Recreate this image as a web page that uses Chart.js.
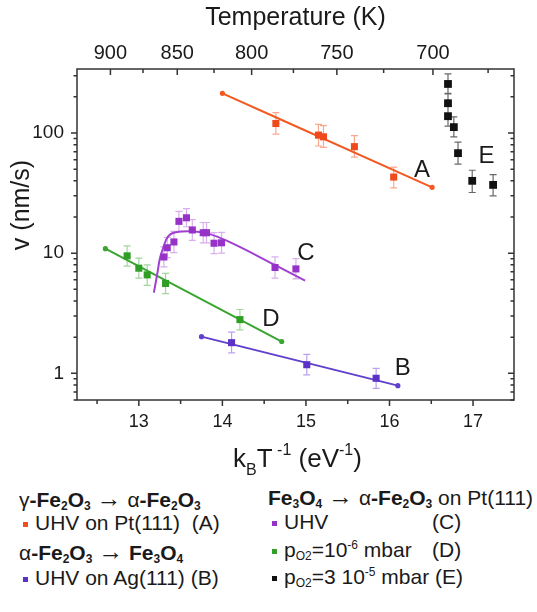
<!DOCTYPE html>
<html>
<head>
<meta charset="utf-8">
<script src="https://cdn.jsdelivr.net/npm/chart.js@4.4.0/dist/chart.umd.min.js"></script>
<style>
  body { margin: 0; background: #fff; }
  #wrap { position: relative; width: 537px; height: 612px; overflow: hidden;
          font-family: 'Liberation Sans', Arial, sans-serif; color: #1a1a1a; }
  #chart { position: absolute; left: 0; top: 0; }
  .leg { position: absolute; font-size: 21px; line-height: 24px; white-space: nowrap; }
  .leg sub { font-size: 12px; vertical-align: -3px; line-height: 0; }
  .leg sup { font-size: 12px; vertical-align: 8px; line-height: 0; }
  .arr { font-size: 25px; line-height: 0; }
  .mk { display: inline-block; width: 5px; height: 5px; margin: 0 7px 0 4px; vertical-align: middle; }
</style>
</head>
<body>
<div id="wrap">
  <canvas id="chart" width="537" height="480"></canvas>

  <div class="leg" style="left:19px; top:488px;">γ<b>-Fe<sub>2</sub>O<sub>3</sub></b> <span class="arr">→</span> α<b>-Fe<sub>2</sub>O<sub>3</sub></b></div>
  <div class="leg" style="left:19px; top:511px;"><span class="mk" style="background:#f0501e"></span>UHV on Pt(111)&nbsp; (A)</div>
  <div class="leg" style="left:19px; top:541px;">α<b>-Fe<sub>2</sub>O<sub>3</sub></b> <span class="arr">→</span> <b>Fe<sub>3</sub>O<sub>4</sub></b></div>
  <div class="leg" style="left:19px; top:566px;"><span class="mk" style="background:#5a32c8"></span>UHV on Ag(111) (B)</div>

  <div class="leg" style="left:268px; top:486px;"><b>Fe<sub>3</sub>O<sub>4</sub></b> <span class="arr">→</span> α<b>-Fe<sub>2</sub>O<sub>3</sub></b> on Pt(111)</div>
  <div class="leg" style="left:268px; top:510px;"><span class="mk" style="background:#9632c8"></span>UHV</div>
  <div class="leg" style="left:432px; top:510px;">(C)</div>
  <div class="leg" style="left:268px; top:538px;"><span class="mk" style="background:#32a028"></span>p<sub>O2</sub>=10<sup>-6</sup> mbar</div>
  <div class="leg" style="left:432px; top:538px;">(D)</div>
  <div class="leg" style="left:268px; top:565px;"><span class="mk" style="background:#111"></span>p<sub>O2</sub>=3 10<sup>-5</sup> mbar (E)</div>
</div>

<script>
const FONT = '"Liberation Sans", Arial, sans-serif';

// axis ticks
const xTicks = [13, 14, 15, 16, 17];
const yTicks = [1, 10, 100];
const tempLabels = ['900', '850', '800', '750', '700'];
const tempPos = [12.66, 13.46, 14.35, 15.37, 16.52];
const tempMinorPos = [13.05, 13.90, 14.85, 15.93, 17.18];

// A: gamma-Fe2O3 -> alpha-Fe2O3, UHV on Pt(111)
const aX = [14.64, 15.15, 15.21, 15.58, 16.05];
const aY = [120, 96, 93, 77, 43];
const aLo = [98, 78, 76, 63, 35];
const aHi = [148, 118, 115, 95, 52];
const aFitX = [14.00, 16.51];
const aFitY = [214, 35.3];

// B: alpha-Fe2O3 -> Fe3O4, UHV on Ag(111)
const bX = [14.11, 15.01, 15.84];
const bY = [1.80, 1.18, 0.91];
const bLo = [1.48, 0.97, 0.75];
const bHi = [2.2, 1.44, 1.10];
const bFitX = [13.75, 16.10];
const bFitY = [2.02, 0.79];

// C: Fe3O4 -> alpha-Fe2O3, UHV
const cX = [13.30, 13.34, 13.42, 13.48, 13.57, 13.64, 13.77, 13.81, 13.90, 13.99, 14.63, 14.88];
const cY = [9.3, 11.1, 12.4, 18.4, 19.7, 15.6, 14.8, 14.8, 12.1, 12.2, 7.6, 7.4];
const cLo = [7.7, 9.2, 10.1, 15.2, 16.6, 12.8, 12.2, 12.2, 9.9, 10.0, 6.2, 6.1];
const cHi = [11.3, 13.5, 15.2, 22.3, 23.5, 19.0, 18.0, 18.0, 14.8, 14.9, 9.3, 9.0];
const cFitX = [13.18, 13.22, 13.25, 13.29, 13.33, 13.38, 13.46, 13.59, 13.73, 13.85, 14.05, 14.61, 14.99];
const cFitY = [4.7, 6.7, 8.9, 11.0, 13.1, 14.4, 15.0, 15.2, 15.0, 14.4, 12.7, 8.1, 5.9];

// D: pO2 = 1e-6 mbar
const dX = [12.86, 13.00, 13.10, 13.32, 14.21];
const dY = [9.5, 7.5, 6.6, 5.6, 2.8];
const dLo = [7.8, 6.2, 5.4, 4.6, 2.3];
const dHi = [11.5, 9.1, 8.0, 6.8, 3.4];
const dFitX = [12.60, 14.71];
const dFitY = [10.9, 1.84];

// E: pO2 = 3e-5 mbar
const eX = [16.70, 16.70, 16.70, 16.77, 16.82, 16.99, 17.24];
const eY = [256, 177, 138, 112, 68, 40, 37];
const eLo = [212, 146, 114, 93, 55, 32, 30];
const eHi = [310, 214, 167, 136, 84, 49, 45];

function pts(xs, ys) {
  return xs.map((x, i) => ({ x: x, y: ys[i] }));
}

function pointSet(xs, ys, lo, hi, color, errColor, r) {
  return {
    data: pts(xs, ys), showLine: false, order: 1,
    pointStyle: 'rect', pointRadius: r || 5, backgroundColor: color, borderColor: color, borderWidth: 0,
    errLo: lo, errHi: hi, errColor: errColor
  };
}

function fitSet(xs, ys, color, dots) {
  return {
    data: pts(xs, ys), showLine: true, order: 2,
    borderColor: color, backgroundColor: color, borderWidth: 2,
    pointRadius: ctx => (dots && (ctx.dataIndex === 0 || ctx.dataIndex === xs.length - 1)) ? 1.6 : 0,
    cubicInterpolationMode: 'monotone'
  };
}

const letters = [
  { t: 'A', x: 16.39, y: 48.5 },
  { t: 'E', x: 17.16, y: 64.5 },
  { t: 'C', x: 15.00, y: 10.0 },
  { t: 'D', x: 14.58, y: 2.82 },
  { t: 'B', x: 16.16, y: 1.09 }
];

const decor = {
  id: 'decor',
  beforeDatasetsDraw(chart) {
    const { ctx, scales: { x, y } } = chart;
    chart.data.datasets.forEach(ds => {
      if (!ds.errLo) return;
      ctx.save();
      ctx.strokeStyle = ds.errColor;
      ctx.lineWidth = 1.2;
      ctx.beginPath();
      ds.data.forEach((p, i) => {
        const px = x.getPixelForValue(p.x);
        const y1 = y.getPixelForValue(ds.errLo[i]);
        const y2 = y.getPixelForValue(ds.errHi[i]);
        ctx.moveTo(px, y1); ctx.lineTo(px, y2);
        ctx.moveTo(px - 3.5, y1); ctx.lineTo(px + 3.5, y1);
        ctx.moveTo(px - 3.5, y2); ctx.lineTo(px + 3.5, y2);
      });
      ctx.stroke();
      ctx.restore();
    });
  },
  afterDraw(chart) {
    const { ctx, chartArea: a, scales: { x, y } } = chart;
    ctx.save();
    ctx.strokeStyle = '#333';
    ctx.lineWidth = 1.5;
    ctx.strokeRect(a.left, a.top, a.right - a.left, a.bottom - a.top);

    ctx.beginPath();
    for (let v = 12.5; v <= 17.01; v += 0.5) {
      const px = x.getPixelForValue(v);
      const len = Number.isInteger(v) ? 6 : 4;
      ctx.moveTo(px, a.bottom); ctx.lineTo(px, a.bottom + len);
    }
    tempPos.forEach(v => {
      const px = x.getPixelForValue(v);
      ctx.moveTo(px, a.top); ctx.lineTo(px, a.top + 6);
    });
    tempMinorPos.forEach(v => {
      const px = x.getPixelForValue(v);
      ctx.moveTo(px, a.top); ctx.lineTo(px, a.top + 4);
    });
    for (let e = -1; e <= 2; e++) {
      for (let m = 1; m <= 9; m++) {
        const v = m * Math.pow(10, e);
        if (v < y.min || v > y.max) continue;
        const py = y.getPixelForValue(v);
        const len = m === 1 ? 6 : 3.5;
        ctx.moveTo(a.left, py); ctx.lineTo(a.left - len, py);
        ctx.moveTo(a.right, py); ctx.lineTo(a.right - len, py);
      }
    }
    ctx.stroke();

    ctx.fillStyle = '#1a1a1a';
    ctx.textAlign = 'center';
    ctx.textBaseline = 'middle';
    ctx.font = '25px ' + FONT;
    ctx.fillText('Temperature (K)', (a.left + a.right) / 2, 18);

    ctx.save();
    ctx.translate(22, 205);
    ctx.rotate(-Math.PI / 2);
    ctx.font = '25px ' + FONT;
    ctx.fillText('v (nm/s)', 0, 0);
    ctx.restore();

    // k_B T^-1 (eV^-1)
    const parts = [
      { t: 'k', s: 26, dy: 0 },
      { t: 'B', s: 16, dy: 8 },
      { t: 'T', s: 26, dy: 0 },
      { t: ' -1', s: 16, dy: -12 },
      { t: ' (eV', s: 26, dy: 0 },
      { t: '-1', s: 16, dy: -12 },
      { t: ')', s: 26, dy: 0 }
    ];
    ctx.textAlign = 'left';
    ctx.textBaseline = 'alphabetic';
    let total = 0;
    parts.forEach(p => { ctx.font = p.s + 'px ' + FONT; p.w = ctx.measureText(p.t).width; total += p.w; });
    let cx = (a.left + a.right) / 2 + 2 - total / 2;
    parts.forEach(p => {
      ctx.font = p.s + 'px ' + FONT;
      ctx.fillText(p.t, cx, 467 + p.dy);
      cx += p.w;
    });

    ctx.textAlign = 'center';
    ctx.textBaseline = 'middle';
    ctx.font = '24px ' + FONT;
    letters.forEach(l => ctx.fillText(l.t, x.getPixelForValue(l.x), y.getPixelForValue(l.y)));
    ctx.restore();
  }
};

const tickFont = size => ({ size: size, family: FONT });

new Chart(document.getElementById('chart'), {
  type: 'scatter',
  data: {
    datasets: [
      pointSet(aX, aY, aLo, aHi, '#f04a1c', 'rgba(245,110,70,0.6)'),
      pointSet(bX, bY, bLo, bHi, '#5a32c8', 'rgba(140,100,220,0.6)'),
      pointSet(cX, cY, cLo, cHi, '#9632c8', 'rgba(190,120,225,0.6)'),
      pointSet(dX, dY, dLo, dHi, '#2f9e25', 'rgba(100,185,90,0.6)'),
      pointSet(eX, eY, eLo, eHi, '#111111', 'rgba(40,40,40,0.7)', 5.5),
      fitSet(aFitX, aFitY, '#f25a22', true),
      fitSet(bFitX, bFitY, '#6040cc', true),
      fitSet(cFitX, cFitY, '#a040d0', false),
      fitSet(dFitX, dFitY, '#3aa530', true)
    ]
  },
  options: {
    responsive: false,
    animation: false,
    layout: { padding: { left: 0, right: 23, top: 0, bottom: 0 } },
    plugins: { legend: { display: false }, tooltip: { enabled: false } },
    scales: {
      x: {
        type: 'linear', position: 'bottom', min: 12.26, max: 17.49,
        grid: { display: false }, border: { display: false },
        ticks: { font: tickFont(18), color: '#1a1a1a', padding: 3, autoSkip: false, maxRotation: 0 },
        afterBuildTicks: s => { s.ticks = xTicks.map(v => ({ value: v })); },
        afterFit: s => { s.height = 80; }
      },
      xTop: {
        type: 'linear', position: 'top', min: 12.26, max: 17.49,
        grid: { display: false }, border: { display: false },
        ticks: { font: tickFont(20), color: '#1a1a1a', padding: -4, autoSkip: false, maxRotation: 0,
                 callback: (v, i) => tempLabels[i] },
        afterBuildTicks: s => { s.ticks = tempPos.map(v => ({ value: v })); },
        afterFit: s => { s.height = 69; }
      },
      y: {
        type: 'logarithmic', min: 0.607, max: 341,
        grid: { display: false }, border: { display: false },
        ticks: { font: tickFont(19), color: '#1a1a1a', padding: 5, autoSkip: false,
                 callback: v => String(v) },
        afterBuildTicks: s => { s.ticks = yTicks.map(v => ({ value: v })); },
        afterFit: s => { s.width = 77; }
      }
    }
  },
  plugins: [decor]
});
</script>
</body>
</html>
